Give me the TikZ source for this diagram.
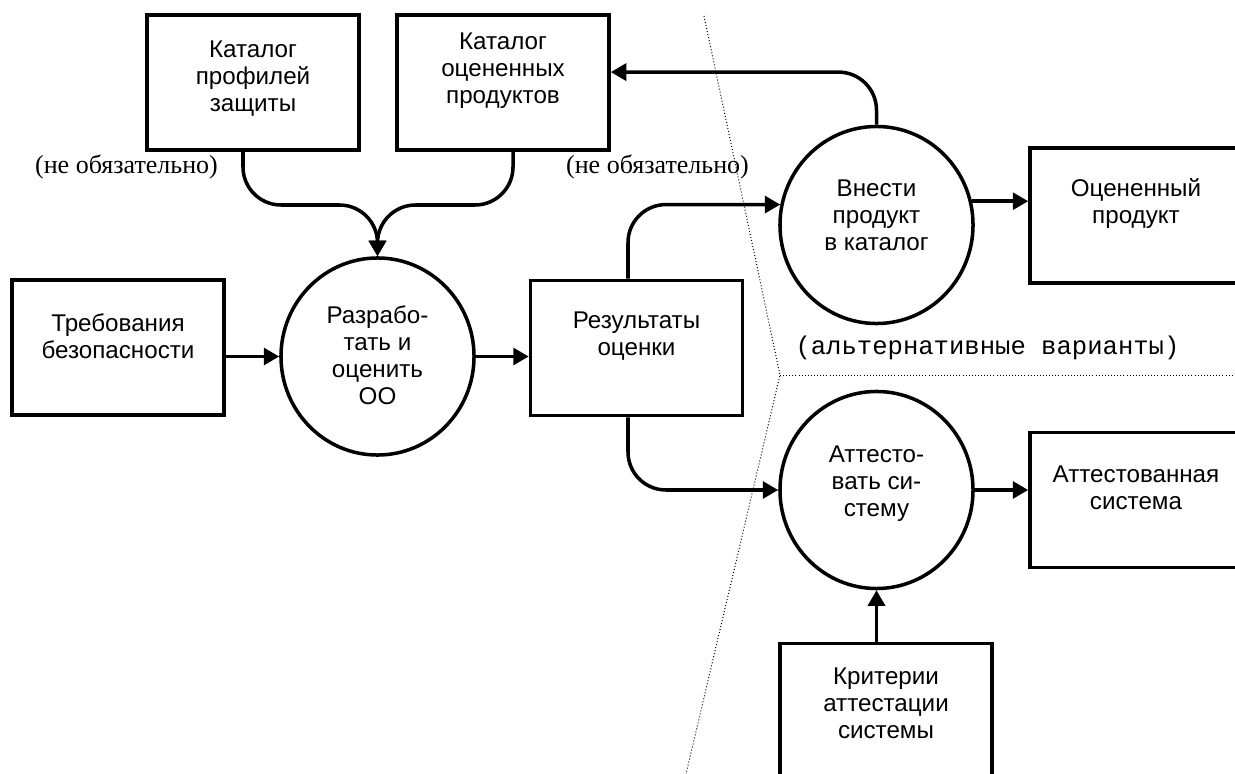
\documentclass[tikz,border=0pt]{standalone}
\usepackage{fontspec}
\usetikzlibrary{arrows.meta,shapes.geometric}
\newfontfamily\boxfont{Liberation Sans}
\newfontfamily\notefont{Liberation Serif}
\newfontfamily\altfont{Liberation Mono}

\begin{document}
\begin{tikzpicture}[x=0.025cm, y=-0.025cm,
  box/.style={draw, line width=2.5pt, minimum width=5.3cm, minimum height=3.375cm},
  proc/.style={draw, ellipse, line width=2.5pt, minimum width=4.825cm, minimum height=4.925cm},
  txt/.style={align=center, inner sep=0pt, font=\boxfont\fontsize{17.2}{19.2}\selectfont},
  note/.style={inner sep=0pt, font=\notefont\fontsize{18.5}{20}\selectfont},
  alt/.style={inner sep=0pt, font=\altfont\fontsize{18.2}{20}\selectfont},
  arr/.style={line width=2.5pt, -{Triangle[length=11pt,width=12pt]}},
  sep/.style={line width=0.7pt, dash pattern=on 0.7pt off 1.5pt}]
  \path[use as bounding box, clip] (0,0) rectangle (1235,774);

  % boxes (data) and their texts
  \node[box] (pp)      at (253,82.5)  {};
  \node[box] (ep)      at (503,82.5)  {};
  \node[box] (req)     at (118,347.5) {};
  \node[box] (res)     at (636.5,348) {};
  \node[box] (prod)    at (1136,215.5) {};
  \node[box] (certsys) at (1136,500)  {};
  \node[box] (crit)    at (886,711)   {};
  \node[txt] (pptext)      at (253,79)    {Каталог\\профилей\\защиты};
  \node[txt] (eptext)      at (503,71)    {Каталог\\оцененных\\продуктов};
  \node[txt] (reqtext)     at (118,336)   {Требования\\безопасности};
  \node[txt] (restext)     at (636.5,336) {Результаты\\оценки};
  \node[txt] (prodtext)    at (1136,204)  {Оцененный\\продукт};
  \node[txt] (certsystext) at (1136,487.5) {Аттестованная\\система};
  \node[txt] (crittext)    at (886,703.5) {Критерии\\аттестации\\системы};

  % processes
  \node[proc] (dev) at (377.5,356.5) {};
  \node[proc] (ins) at (876.5,225)   {};
  \node[proc] (att) at (876.5,490)   {};
  \node[txt] (devtext) at (377.5,355) {Разрабо-\\тать и\\оценить\\ОО};
  \node[txt] (instext) at (876.5,215) {Внести\\продукт\\в каталог};
  \node[txt] (atttext) at (876.5,483.5) {Аттесто-\\вать си-\\стему};

  % notes
  \node[note] (opt1) at (126.5,167) {(не обязательно)};
  \node[note] (opt2) at (657.5,167) {(не обязательно)};
  \node[alt]  (alts) at (987.5,348) {(альтернативные варианты)};

  % dotted border of the alternatives
  \coordinate (fork) at (780,375);
  \draw[sep] (704,16) -- (fork) -- (686,774);
  \draw[sep] (fork) -- (1235,375);

  % flows
  \coordinate (merge) at (377.5,205);
  \draw[arr, rounded corners=0.95cm] ([xshift=-0.25cm]pp.south) |- (merge) -- (dev.north);
  \draw[arr, rounded corners=0.95cm] ([xshift=0.25cm]ep.south) |- (merge) -- (dev.north);
  \draw[arr] (dev -| req.east) -- (dev.west);
  \draw[arr] (dev.east) -- (dev -| res.west);
  \draw[arr, rounded corners=0.95cm] ([xshift=-0.2125cm]res.north) |- (ins.168);
  \draw[arr, rounded corners=0.95cm] ([xshift=-0.2125cm]res.south) |- (att.west);
  \draw[arr, rounded corners=0.95cm] (ins.north) |- ([yshift=0.26cm]ep.east);
  \draw[arr] (ins.14) -- (ins.14 -| prod.west);
  \draw[arr] (att.east) -- (att -| certsys.west);
  \draw[arr] (att.south |- crit.north) -- (att.south);
\end{tikzpicture}
\end{document}
